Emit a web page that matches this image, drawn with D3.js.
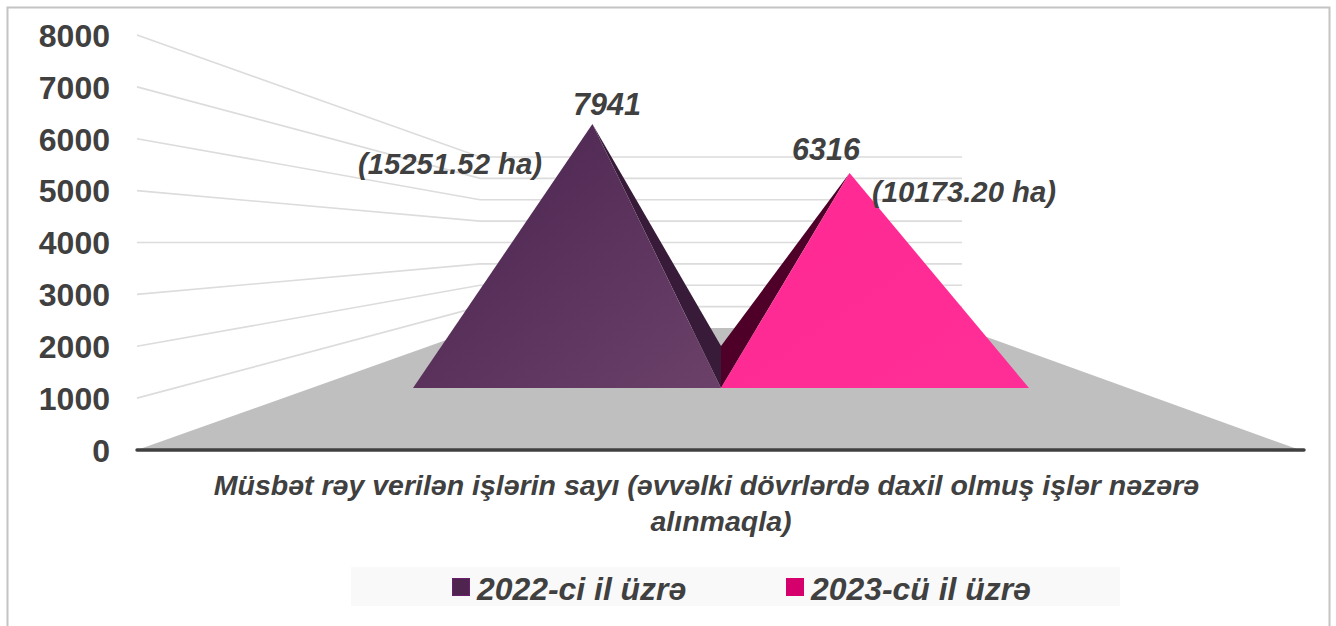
<!DOCTYPE html>
<html><head><meta charset="utf-8">
<script src="https://cdn.jsdelivr.net/npm/d3@7"></script>
<style>html,body{margin:0;padding:0;background:#fff}svg{display:block}
text{font-family:"Liberation Sans",Arial,sans-serif;font-weight:bold;fill:#404040}</style>
</head><body><svg id="c" width="1336" height="626"></svg>
<script>
const seriesNames = ["2022-ci il üzrə", "2023-cü il üzrə"];
const seriesValues = [7941, 6316];
const areaLabels = ["(15251.52 ha)", "(10173.20 ha)"];
const tickValues = [0,1000,2000,3000,4000,5000,6000,7000,8000];
const axisTitleLines = ["Müsbət rəy verilən işlərin sayı (əvvəlki dövrlərdə daxil olmuş işlər nəzərə", "alınmaqla)"];
const faceColors = [["#512a55","#6b4169"],["#ff2a94","#ff2e96"]];
const sideColors = ["#371b39","#4f0029"];
const swatchColors = ["#4f2550","#d6006c"];

const svg = d3.select("#c");
const W=1336,H=626;
// chart frame
svg.append("path").attr("d",`M7.5,${H} V7.5 H1329.5 V${H}`).attr("fill","none").attr("stroke","#c4c4c4").attr("stroke-width",2);

const yFront = d3.scaleLinear().domain([0,8000]).range([450,35]);
const yBack  = d3.scaleLinear().domain([0,8000]).range([328,157]);
const yApex  = d3.scalePow().exponent(0.8966).domain([0,8000]).range([388,122.3]);
const x = d3.scaleBand().domain(seriesNames).range([413,1029]);
const frontL=137, frontR=1300, backL=480, backR=962, backCornerY=346, mid=721;

// gridlines on walls
svg.append("g").selectAll("path").data(tickValues.filter(d=>d>0)).join("path")
  .attr("d",d=>`M${frontL},${yFront(d)} L${backL},${yBack(d)} H${backR}`)
  .attr("fill","none").attr("stroke","#dcdcdc").attr("stroke-width",1.6);

// floor
svg.append("path")
  .attr("d",`M${frontL},${yFront(0)} L${backL},${yBack(0)} H${backR} L${frontR},${yFront(0)} Z`)
  .attr("fill","#bfbfbf");

// axis baseline
svg.append("line").attr("x1",137).attr("x2",1304).attr("y1",yFront(0)).attr("y2",yFront(0))
  .attr("stroke","#404040").attr("stroke-width",3.4).attr("stroke-linecap","round");

// value axis
const ax = svg.append("g").attr("transform","translate(118,1)")
  .call(d3.axisLeft(yFront).tickValues(tickValues).tickSize(0).tickPadding(8).tickFormat(d3.format("d")));
ax.select(".domain").remove();
ax.selectAll("text").attr("font-size",32).style("font-family",'"Liberation Sans",Arial,sans-serif').style("font-weight","bold").attr("fill","#404040");

// pyramids
const defs = svg.append("defs");
faceColors.forEach((c,i)=>{
  const g = defs.append("linearGradient").attr("id","g"+i).attr("x1","0").attr("y1","0").attr("x2","1").attr("y2","1");
  g.append("stop").attr("offset","0.25").attr("stop-color",c[0]);
  g.append("stop").attr("offset","1").attr("stop-color",c[1]);
});
const baseY = yApex(0);
seriesNames.forEach((n,i)=>{
  const x0=x(n), x1=x0+x.bandwidth(), cx=x0+x.bandwidth()/2;
  const ax_ = cx+(mid-cx)*0.165, ay=yApex(seriesValues[i]);
  svg.append("path").attr("d",`M${ax_},${ay} L${mid},${backCornerY} V${baseY} Z`).attr("fill",sideColors[i]);
  svg.append("path").attr("d",`M${ax_},${ay} L${x0},${baseY} H${x1} Z`).attr("fill",`url(#g${i})`);
});

// data labels
const labelPos=[{v:[607,115],a:[450,173.5]},{v:[826,160],a:[964,202]}];
seriesValues.forEach((v,i)=>{
  svg.append("text").attr("x",labelPos[i].v[0]).attr("y",labelPos[i].v[1]).attr("text-anchor","middle")
    .attr("font-size",30.5).attr("font-style","italic").text(v);
  svg.append("text").attr("x",labelPos[i].a[0]).attr("y",labelPos[i].a[1]).attr("text-anchor","middle")
    .attr("font-size",29.3).attr("font-style","italic").text(areaLabels[i]);
});

// axis title
const titleX=[706.5,721];
svg.append("g").selectAll("text").data(axisTitleLines).join("text")
  .attr("x",(d,i)=>titleX[i]).attr("y",(d,i)=>495+i*36).attr("text-anchor","middle")
  .attr("font-size",28.5).attr("font-style","italic").text(d=>d);

// legend
svg.append("rect").attr("x",351).attr("y",567).attr("width",769).attr("height",39).attr("fill","#f9f9f9");
const legX=[452,786];
seriesNames.forEach((n,i)=>{
  svg.append("rect").attr("x",legX[i]+.5).attr("y",578.5).attr("width",17).attr("height",17)
    .attr("fill",swatchColors[i]).attr("stroke",i?"#d6006c":"#6a1f6c").attr("stroke-width",1);
  svg.append("text").attr("x",legX[i]+25).attr("y",600).attr("font-size",31.9).attr("font-style","italic").text(n);
});
</script></body></html>
